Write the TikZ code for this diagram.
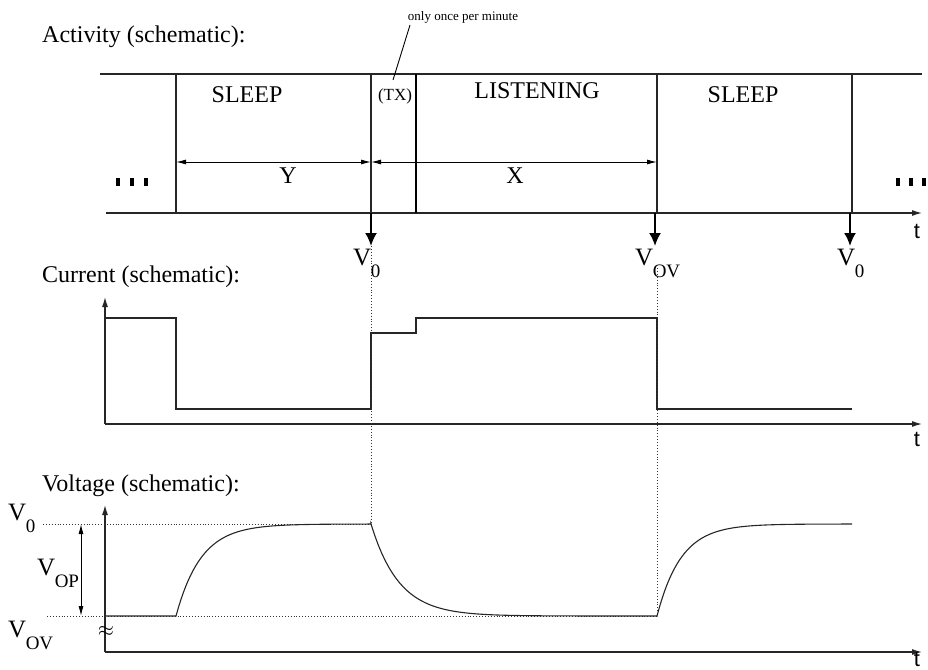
\documentclass[tikz,border=0pt]{standalone}
\usepackage{fontspec}
\setmainfont{Liberation Serif}
\newfontfamily\tfont{Liberation Sans}
\usetikzlibrary{arrows.meta}
\newcommand\Vsub[1]{V\kern-0.02em\raisebox{-12.5pt}{\fontsize{19}{19}\selectfont #1}}
\begin{document}
\begin{tikzpicture}[x=1pt,y=-1pt,
  ln/.style={draw=black!85, line width=1.2pt},
  axis/.style={draw=black!85, line width=1.2pt, -{Latex[length=10pt,width=6pt]}},
  event/.style={draw=black, line width=2pt, -{Latex[length=13pt,width=12pt]}},
  dim/.style={draw=black, line width=1pt, {Latex[length=10pt,width=5pt]}-{Latex[length=10pt,width=5pt]}},
  guide/.style={draw=black!80, line width=0.9pt, dotted},
  lbl/.style={font=\fontsize{24}{26}\selectfont, inner sep=0pt},
  tl/.style={font=\tfont\fontsize{22}{24}\selectfont, inner sep=0pt},
  vl/.style={font=\fontsize{25}{27}\selectfont, inner sep=0pt},
  small/.style={font=\fontsize{13}{15}\selectfont, inner sep=0pt},
  dots/.style={fill=black, draw=none}]
\useasboundingbox (0,0) rectangle (928,669);

% ---------- Activity ----------
\node[lbl, anchor=base west] (acttitle) at (42,42) {Activity (schematic):};
\coordinate (tl) at (100,74);  \coordinate (tr) at (922,74);
\coordinate (bl) at (106,213); \coordinate (br) at (922,213);
\draw[ln] (tl) -- (tr);
\draw[axis] (bl) -- (br);
\node[tl, anchor=base] (tA) at (917,238) {t};

\coordinate (atop) at (176,74); \coordinate (abot) at (176,213);
\coordinate (btop) at (371,74); \coordinate (bbot) at (371,213);
\coordinate (ctop) at (416,74); \coordinate (cbot) at (416,213);
\coordinate (dtop) at (657,74); \coordinate (dbot) at (657,213);
\coordinate (etop) at (852,74); \coordinate (ebot) at (852,213);
\draw[ln] (atop) -- (abot);
\draw[ln] (btop) -- (bbot);
\draw[draw=black, line width=2pt] (ctop) -- (cbot);
\draw[ln] (dtop) -- (dbot);
\draw[ln] (etop) -- (ebot);

\node[lbl] (sleep1) at (247,95) {SLEEP};
\node[inner sep=0pt, font=\fontsize{17}{19}\selectfont] (tx) at (395,96) {(TX)};
\node[lbl] (listen) at (537,91) {LISTENING};
\node[lbl] (sleep2) at (743,95) {SLEEP};

\node[small, anchor=base] (once) at (463,21) {only once per minute};
\coordinate (oncefoot) at (410,25);
\coordinate (txtop) at (393,80);
\draw[line width=0.9pt] (oncefoot) -- (txtop);

\coordinate (ya) at (176,162); \coordinate (yb) at (371,162); \coordinate (xb) at (657,162);
\draw[dim] (ya) -- (yb);
\draw[dim] (yb) -- (xb);
\node[lbl] (Y) at (288,176) {Y};
\node[lbl] (X) at (515,176) {X};

\foreach \x in {116,130,144, 896,909,922}{
  \fill[dots] (\x,178) rectangle ++(4,8);
}

\coordinate (s1) at (371,213); \coordinate (s2) at (655,213); \coordinate (s3) at (850,213);
\coordinate (e1) at (371,246); \coordinate (e2) at (655,246); \coordinate (e3) at (850,246);
\draw[event] (s1) -- (e1);
\draw[event] (s2) -- (e2);
\draw[event] (s3) -- (e3);
\node[vl, anchor=base west] (v0a) at (353,265) {\Vsub{0}};
\node[vl, anchor=base west] (vov) at (635,265) {\Vsub{OV}};
\node[vl, anchor=base west] (v0b) at (837,265) {\Vsub{0}};

% ---------- Current ----------
\node[lbl, anchor=base west] (curtitle) at (42,282) {Current (schematic):};
\coordinate (co) at (105,424);
\coordinate (cy) at (105,297); \coordinate (cx) at (922,424);
\draw[axis] (co) -- (cy);
\draw[axis] (co) -- (cx);
\node[tl, anchor=base] (tC) at (917,446) {t};
\draw[ln] (105,318) -- (176,318) -- (176,409) -- (371,409) -- (371,333) -- (416,333)
  -- (416,318) -- (657,318) -- (657,409) -- (852,409);

% ---------- Voltage ----------
\node[lbl, anchor=base west] (voltitle) at (42,491) {Voltage (schematic):};
\coordinate (vo) at (105,652);
\coordinate (vy) at (105,505); \coordinate (vx) at (922,652);
\draw[axis] (vo) -- (vy);
\draw[axis] (vo) -- (vx);
\node[tl, anchor=base] (tV) at (917,666) {t};
\node[font=\fontsize{20}{20}\selectfont, inner sep=0pt] (approx) at (106,631) {$\approx$};

\coordinate (v0l) at (43,524); \coordinate (v0r) at (371,524);
\coordinate (vovl) at (47,616); \coordinate (vovr) at (657,616);
\coordinate (g2) at (657,268);
\draw[guide] (v0l) -- (v0r);
\draw[guide] (vovl) -- (vovr);
\draw[guide] (e1) -- (v0r);
\draw[guide] (g2) -- (vovr);

\node[vl, anchor=base west] (v0L) at (8,520) {\Vsub{0}};
\node[vl, anchor=base west] (vovL) at (8,637) {\Vsub{OV}};
\node[vl, anchor=base west] (vopL) at (37,575) {\Vsub{OP}};
\coordinate (opa) at (81,524); \coordinate (opb) at (81,616);
\draw[dim] (opa) -- (opb);

\draw[ln, line width=1.1pt] (105,616) -- (176,616)
  -- plot[domain=176:371, samples=80] (\x, {616-92*(1-exp(-(\x-176)/25))})
  -- plot[domain=371:657, samples=80] (\x, {524+92*(1-exp(-(\x-371)/28))})
  -- plot[domain=657:852, samples=80] (\x, {616-92*(1-exp(-(\x-657)/24))});
\end{tikzpicture}
\end{document}
